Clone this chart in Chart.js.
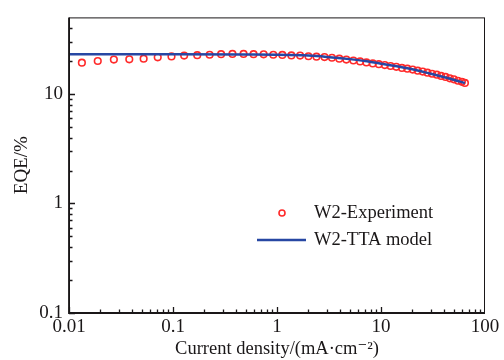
<!DOCTYPE html>
<html>
<head>
<meta charset="utf-8">
<script src="https://cdn.jsdelivr.net/npm/chart.js@4.4.0/dist/chart.umd.min.js"></script>
<style>
  html, body { margin: 0; padding: 0; background: #fff; }
</style>
</head>
<body>
<canvas id="myChart" width="504" height="360"></canvas>
<script>
// measured points (current density in mA/cm2, EQE in %)
const expCurrent = [0.0133, 0.0189, 0.027, 0.038, 0.0522, 0.0713, 0.0967, 0.128, 0.171, 0.225,
  0.29, 0.373, 0.477, 0.595, 0.744, 0.921, 1.125, 1.375, 1.668, 2.006,
  2.397, 2.864, 3.377, 3.972, 4.642, 5.425, 6.295, 7.241, 8.333, 9.522,
  10.88, 12.36, 14.03, 15.89, 17.91, 20.16, 22.53, 25.18, 27.95, 30.96,
  34.37, 37.82, 41.72, 45.9, 50.17, 54.84, 59.95, 64.1];
const expEqe = [19.3, 20.0, 20.6, 20.7, 21.0, 21.6, 22.0, 22.4, 22.6, 22.8,
  23.1, 23.2, 23.2, 23.1, 23.0, 22.8, 22.7, 22.5, 22.4, 22.1,
  21.9, 21.7, 21.4, 21.0, 20.6, 20.2, 19.8, 19.4, 19.0, 18.7,
  18.35, 18.0, 17.7, 17.3, 17.0, 16.7, 16.3, 16.0, 15.65, 15.3,
  15.0, 14.6, 14.3, 13.9, 13.6, 13.2, 12.9, 12.6];

// TTA model curve
const modelCurrent = [0.01, 0.1, 0.5, 1, 2, 3, 5, 7, 10, 15, 20, 30, 40, 50, 64.1];
const modelEqe = [23.0, 23.0, 22.9, 22.8, 22.4, 21.8, 20.8, 20.0, 18.9, 17.7, 16.8, 15.3, 14.3, 13.5, 12.6];

const xTicks = [0.01, 0.1, 1, 10, 100];
const yTicks = [0.1, 1, 10];

const serif = "'Liberation Serif', 'DejaVu Serif', serif";
const inkColor = "#1a1718";
const redColor = "#ff2a2a";
const blueColor = "#2747a3";

// frame box plus inward tick marks on the bottom and left axes
const frameTicks = {
  id: "frameTicks",
  afterDraw: (chart) => {
    const ctx = chart.ctx;
    const { left, right, top, bottom } = chart.chartArea;
    const xs = chart.scales.x;
    const ys = chart.scales.y;
    ctx.save();
    ctx.strokeStyle = inkColor;
    ctx.lineWidth = 1;
    ctx.strokeRect(left + 0.5, top + 0.5, right - left - 1, bottom - top);
    ctx.lineWidth = 1.8;
    ctx.beginPath();
    ctx.moveTo(left, top);
    ctx.lineTo(left, bottom);
    ctx.lineTo(right, bottom);
    ctx.stroke();

    ctx.lineWidth = 1.3;
    ctx.beginPath();
    for (let d = 0.01; d < 100; d *= 10) {
      for (let m = 1; m <= 9; m++) {
        const px = Math.round(xs.getPixelForValue(m * d)) + 0.5;
        const len = m === 1 ? 6 : 3.5;
        ctx.moveTo(px, bottom);
        ctx.lineTo(px, bottom - len);
      }
    }
    for (let d = 0.1; d < 50; d *= 10) {
      for (let m = 1; m <= 9; m++) {
        const v = m * d;
        if (v >= 50) continue;
        const py = Math.round(ys.getPixelForValue(v)) + 0.5;
        const len = m === 1 ? 6 : 3.5;
        ctx.moveTo(left, py);
        ctx.lineTo(left + len, py);
      }
    }
    ctx.stroke();
    ctx.restore();
  }
};

// legend placed inside the plot area
const innerLegend = {
  id: "innerLegend",
  afterDraw: (chart) => {
    const ctx = chart.ctx;
    const { left } = chart.chartArea;
    const lx = left + 188;
    const ty = 213;
    ctx.save();
    ctx.strokeStyle = redColor;
    ctx.lineWidth = 1.6;
    ctx.beginPath();
    ctx.arc(lx + 25, ty, 3, 0, Math.PI * 2);
    ctx.stroke();
    ctx.strokeStyle = blueColor;
    ctx.lineWidth = 2.5;
    ctx.beginPath();
    ctx.moveTo(lx, ty + 27);
    ctx.lineTo(lx + 49, ty + 27);
    ctx.stroke();
    ctx.fillStyle = inkColor;
    ctx.font = "18.5px " + serif;
    ctx.textBaseline = "middle";
    ctx.fillText("W2-Experiment", lx + 57, ty);
    ctx.fillText("W2-TTA model", lx + 57, ty + 27);
    ctx.restore();
  }
};

const config = {
  type: "scatter",
  data: {
    datasets: [
      {
        label: "W2-TTA model",
        data: modelCurrent.map((c, i) => ({ x: c, y: modelEqe[i] })),
        showLine: true,
        borderColor: blueColor,
        borderWidth: 2.5,
        pointRadius: 0,
        cubicInterpolationMode: "monotone",
        order: 0,
      },
      {
        label: "W2-Experiment",
        data: expCurrent.map((c, i) => ({ x: c, y: expEqe[i] })),
        showLine: false,
        borderColor: redColor,
        backgroundColor: "rgba(0,0,0,0)",
        pointRadius: 3.3,
        pointBorderWidth: 1.6,
        order: 1,
      },
    ],
  },
  options: {
    responsive: false,
    animation: false,
    layout: { padding: { top: 7, right: 19, left: 0, bottom: 0 } },
    plugins: { legend: { display: false }, tooltip: { enabled: false } },
    scales: {
      x: {
        type: "logarithmic",
        min: 0.01,
        max: 100,
        afterBuildTicks: (s) => { s.ticks = xTicks.map((v) => ({ value: v })); },
        afterFit: (s) => { s.height = 47; },
        grid: { display: false, drawTicks: false },
        border: { display: false },
        ticks: {
          autoSkip: false,
          maxRotation: 0,
          padding: 3,
          color: inkColor,
          font: { family: serif, size: 19 },
          callback: (v) => String(v),
        },
        title: {
          display: true,
          text: "Current density/(mA·cm⁻²)",
          color: inkColor,
          font: { family: serif, size: 18.5 },
          padding: 0,
        },
      },
      y: {
        type: "logarithmic",
        min: 0.1,
        max: 50,
        afterBuildTicks: (s) => { s.ticks = yTicks.map((v) => ({ value: v })); },
        afterFit: (s) => { s.width = 69; },
        grid: { display: false, drawTicks: false },
        border: { display: false },
        ticks: {
          autoSkip: false,
          padding: 6,
          color: inkColor,
          font: { family: serif, size: 19 },
          callback: (v) => String(v),
        },
        title: {
          display: true,
          text: "EQE/%",
          color: inkColor,
          font: { family: serif, size: 19 },
          padding: { top: 11, bottom: 0 },
        },
      },
    },
  },
  plugins: [frameTicks, innerLegend],
};

const myChart = new Chart(document.getElementById("myChart"), config);
</script>
</body>
</html>
